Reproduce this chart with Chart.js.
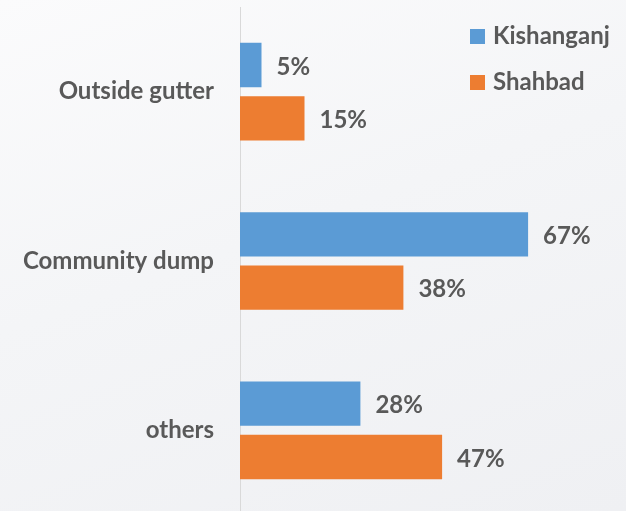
<!DOCTYPE html>
<html>
<head>
<meta charset="utf-8">
<script src="https://cdn.jsdelivr.net/npm/chart.js@4"></script>
<style>
  html, body { margin: 0; padding: 0; overflow: hidden; height: 511px; }
  body { background: linear-gradient(160deg, #fbfbfc 0%, #f4f5f7 45%, #eff0f3 100%); }
  /* the plot runs a few pixels past the bottom edge */
  #wrap { width: 626px; height: 515px; position: relative; }
</style>
</head>
<body>
<div id="wrap"><canvas id="dumpChart"></canvas></div>
<script>
  // Where household waste ends up, share of households (%)
  const categories = ['Outside gutter', 'Community dump', 'others'];
  const kishanganj = [5, 67, 28];
  const shahbad = [15, 38, 47];
  const seriesNames = ['Kishanganj', 'Shahbad'];

  const BLUE = '#5b9bd5';
  const ORANGE = '#ed7d31';
  const TEXT = '#595959';
  const FONT = 'Lato, "Open Sans", sans-serif';

  // value labels at the end of each bar
  const barLabels = {
    id: 'barLabels',
    afterDatasetsDraw(chart) {
      const ctx = chart.ctx;
      ctx.save();
      ctx.font = 'bold 24px ' + FONT;
      ctx.fillStyle = TEXT;
      ctx.textBaseline = 'middle';
      ctx.textAlign = 'left';
      chart.data.datasets.forEach((ds, i) => {
        chart.getDatasetMeta(i).data.forEach((bar, j) => {
          ctx.fillText(ds.data[j] + '%', bar.x + 15, bar.y + 2);
        });
      });
      ctx.restore();
    }
  };

  // small legend in the top right corner
  const cornerLegend = {
    id: 'cornerLegend',
    afterDraw(chart) {
      const ctx = chart.ctx;
      ctx.save();
      ctx.font = 'bold 24px ' + FONT;
      ctx.textBaseline = 'middle';
      chart.data.datasets.forEach((ds, i) => {
        const y = 36 + i * 46;
        ctx.fillStyle = ds.backgroundColor;
        ctx.fillRect(470, y - 7, 15, 15);
        ctx.fillStyle = TEXT;
        ctx.fillText(ds.label, 493, y);
      });
      ctx.restore();
    }
  };

  new Chart(document.getElementById('dumpChart'), {
    type: 'bar',
    data: {
      labels: categories,
      datasets: [
        { label: seriesNames[0], data: kishanganj, backgroundColor: BLUE },
        { label: seriesNames[1], data: shahbad, backgroundColor: ORANGE }
      ]
    },
    options: {
      indexAxis: 'y',
      responsive: true,
      maintainAspectRatio: false,
      animation: false,
      categoryPercentage: 0.63,
      barPercentage: 0.83,
      layout: { padding: { top: 7, right: 42, bottom: 0, left: 0 } },
      scales: {
        x: { display: false, min: 0, max: 80 },
        y: {
          afterFit(scale) {
            scale.width = 240;
            // keep the tick padding from shrinking the plot vertically
            scale.paddingTop = 0;
            scale.paddingBottom = 0;
          },
          grid: { display: false, drawTicks: false },
          border: { display: true, color: '#d9d9d9', width: 1 },
          ticks: {
            padding: 26,
            color: TEXT,
            font: { family: FONT, size: 24, weight: 'bold' }
          }
        }
      },
      plugins: {
        legend: { display: false },
        tooltip: { enabled: false }
      }
    },
    plugins: [barLabels, cornerLegend]
  });
</script>
</body>
</html>
